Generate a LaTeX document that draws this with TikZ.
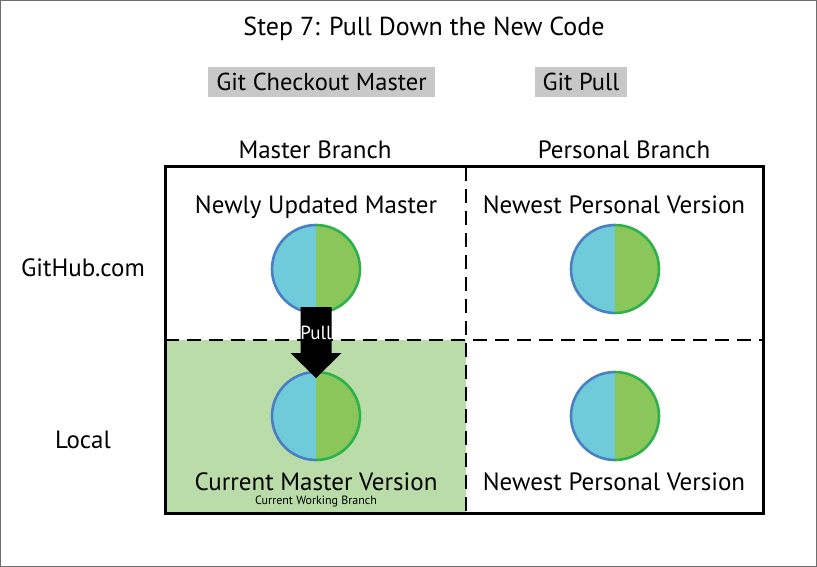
\documentclass[tikz,border=0pt]{standalone}
\usepackage{fontspec}
\setmainfont{PT Sans}
\usetikzlibrary{calc}
\definecolor{cblue}{HTML}{6FCBD9}
\definecolor{cbluestroke}{HTML}{4A80C3}
\definecolor{cgreen}{HTML}{8BC65B}
\definecolor{cgreenstroke}{HTML}{2DB24B}
\definecolor{bggreen}{HTML}{BADCA8}
\definecolor{labelgray}{HTML}{C8C8C8}
\definecolor{framegray}{HTML}{6E6E6E}
\begin{document}
\begin{tikzpicture}[x=1pt,y=-1pt,
  bigtext/.style={font=\fontsize{25}{28}\selectfont, inner sep=0pt, anchor=base},
  cmdlabel/.style={fill=labelgray, font=\fontsize{24.5}{28}\selectfont, inner xsep=8pt, inner ysep=0pt, minimum height=30pt, text depth=0pt},
  halfcircle/.pic={
    \fill[cblue] (0,-44) arc[start angle=-90, end angle=-270, radius=44] -- cycle;
    \fill[cgreen] (0,-44) arc[start angle=-90, end angle=90, radius=44] -- cycle;
    \draw[cbluestroke, line width=2.6pt] (0,-44) arc[start angle=-90, end angle=-270, radius=44];
    \draw[cgreenstroke, line width=2.6pt] (0,-44) arc[start angle=-90, end angle=90, radius=44];
  },
  gridline/.style={line width=2.8pt, dash pattern=on 14pt off 8pt}
]
\useasboundingbox (0,0) rectangle (817,567);
\draw[framegray, line width=1.2pt] (0.8,0.8) rectangle (816.2,566.2);

% green background for current branch
\fill[bggreen] (165,340) rectangle (466,513);

% title and command labels
\node[font=\fontsize{26}{30}\selectfont, inner sep=0pt, anchor=base] (title) at (424,36) {Step 7: Pull Down the New Code};
\node[cmdlabel] (checkout) at (321.5,82) {Git Checkout Master};
\node[cmdlabel] (pull) at (581,82) {Git Pull};

% column / row headers
\node[bigtext] (colmaster) at (315,159) {Master Branch};
\node[bigtext] (colpers) at (624,159) {Personal Branch};
\node[bigtext] (rowgh) at (83,276) {GitHub.com};
\node[bigtext] (rowlocal) at (83,448) {Local};

% grid
\draw[gridline] (466,167) -- (466,513);
\draw[gridline] (165,340) -- (763,340);
\draw[line width=3pt] (165,167) rectangle (763,513);

% cell texts
\node[bigtext] (tul) at (316,213) {Newly Updated Master};
\node[bigtext] (tur) at (614,213) {Newest Personal Version};
\node[bigtext] (tll) at (316,490) {Current Master Version};
\node[font=\fontsize{12}{14}\selectfont, inner sep=0pt, anchor=base] (tllsub) at (316,504) {Current Working Branch};
\node[bigtext] (tlr) at (614,490) {Newest Personal Version};

% circles
\coordinate (cul) at (316,269);
\coordinate (cur) at (615,269);
\coordinate (cll) at (316,416);
\coordinate (clr) at (615,416);
\pic at (cul) {halfcircle};
\pic at (cur) {halfcircle};
\pic at (cll) {halfcircle};
\pic at (clr) {halfcircle};

% pull arrow
\fill[black] ($(cul)+(-15.5,38)$) -- ($(cul)+(15.5,38)$)
  -- ($(cll)+(15.5,-63)$) -- ($(cll)+(25.5,-63)$)
  -- ($(cll)+(0,-38)$) -- ($(cll)+(-25.5,-63)$)
  -- ($(cll)+(-15.5,-63)$) -- cycle;
\node[text=white, font=\fontsize{19}{21}\selectfont, inner sep=0pt, anchor=base] (pulltext) at (316,339) {Pull};
\end{tikzpicture}
\end{document}
